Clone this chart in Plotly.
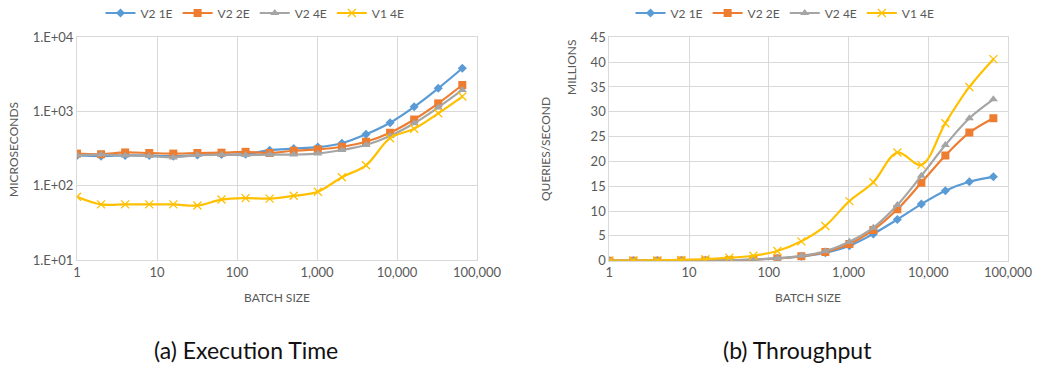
import plotly.graph_objects as go

batch = [1, 2, 4, 8, 16, 32, 64, 128, 256, 512, 1024, 2048, 4096, 8192, 16384, 32768, 65536]
series_names = ["V2 1E", "V2 2E", "V2 4E", "V1 4E"]

# Execution time (microseconds)
time_v2_1e = [255, 250, 255, 255, 250, 258, 262, 265, 300, 315, 330, 372, 490, 703, 1150, 2040, 3800]
time_v2_2e = [270, 265, 280, 275, 270, 275, 278, 285, 275, 295, 307, 334, 390, 515, 776, 1280, 2260]
time_v2_4e = [258, 262, 255, 250, 240, 258, 262, 258, 262, 262, 270, 302, 352, 465, 690, 1130, 1940]
time_v1_4e = [71, 56, 56, 56, 56, 54, 65, 68, 67, 73, 83, 130, 188, 435, 583, 940, 1580]

# Throughput (millions of queries/second)
tp_v2_1e = [0.004, 0.008, 0.016, 0.03, 0.06, 0.12, 0.24, 0.48, 0.85, 1.6, 3.0, 5.4, 8.3, 11.4, 14.1, 15.9, 16.9]
tp_v2_2e = [0.004, 0.008, 0.015, 0.03, 0.06, 0.12, 0.23, 0.45, 0.9, 1.75, 3.35, 6.2, 10.35, 15.7, 21.2, 25.8, 28.7]
tp_v2_4e = [0.004, 0.008, 0.016, 0.03, 0.07, 0.12, 0.24, 0.5, 0.98, 1.9, 3.8, 6.65, 11.2, 17.1, 23.3, 28.7, 32.5]
tp_v1_4e = [0.014, 0.036, 0.07, 0.15, 0.3, 0.6, 1.0, 1.95, 3.9, 7.0, 12.0, 15.8, 21.8, 19.3, 27.7, 35.0, 40.6]

x_tickvals = [1, 10, 100, 1000, 10000, 100000]
x_ticktext = ["1", "10", "100", "1,000", "10,000", "100,000"]
y1_tickvals = [10, 100, 1000, 10000]
y1_ticktext = ["1.E+01", "1.E+02", "1.E+03", "1.E+04"]

colors = ["#5B9BD5", "#ED7D31", "#A5A5A5", "#FFC000"]
symbols = ["diamond", "square", "triangle-up", "x-thin"]
sizes = [7, 8, 8, 8]

W, H = 1039, 368
FONT = "Lato"
TXT = "#595959"
GRID = "#D9D9D9"

fig = go.Figure()

def add_series(ys_list, xa, ya, legend):
    for i, ys in enumerate(ys_list):
        marker = dict(symbol=symbols[i], size=sizes[i], color=colors[i])
        if symbols[i] == "x-thin":
            marker["line"] = dict(color=colors[i], width=1.3)
        fig.add_trace(go.Scatter(
            x=batch, y=ys, name=series_names[i], mode="lines+markers",
            line=dict(color=colors[i], width=2.2, shape="spline"),
            marker=marker, xaxis=xa, yaxis=ya, legend=legend,
        ))

add_series([time_v2_1e, time_v2_2e, time_v2_4e, time_v1_4e], "x", "y", "legend")
add_series([tp_v2_1e, tp_v2_2e, tp_v2_4e, tp_v1_4e], "x2", "y2", "legend2")

def px_x(p):
    return p / W

def px_y(p):
    return 1 - p / H

axis_common = dict(showgrid=True, gridcolor=GRID, gridwidth=1, showline=True,
                   linecolor=GRID, linewidth=1, mirror=True, zeroline=False,
                   ticks="", automargin=False,
                   tickfont=dict(family=FONT, size=13, color=TXT))

fig.update_layout(
    width=W, height=H, margin=dict(l=0, r=0, t=0, b=0, autoexpand=False),
    paper_bgcolor="white", plot_bgcolor="white",
    font=dict(family=FONT, color=TXT),
    xaxis=dict(type="log", range=[0, 5], domain=[px_x(77), px_x(477)], anchor="y",
               tickvals=x_tickvals, ticktext=x_ticktext, **axis_common),
    yaxis=dict(type="log", range=[1, 4], domain=[px_y(260), px_y(37)], anchor="x",
               tickvals=y1_tickvals, ticktext=y1_ticktext, **axis_common),
    xaxis2=dict(type="log", range=[0, 5], domain=[px_x(609.3), px_x(1008)], anchor="y2",
                tickvals=x_tickvals, ticktext=x_ticktext, **axis_common),
    yaxis2=dict(type="linear", range=[0, 45], dtick=5, domain=[px_y(260.7), px_y(37.3)], anchor="x2",
                **axis_common),
    legend=dict(orientation="h", x=px_x(255), y=px_y(13), xanchor="center", yanchor="middle",
                font=dict(family=FONT, size=12, color=TXT), itemwidth=30,
                bgcolor="rgba(0,0,0,0)", tracegroupgap=0),
    legend2=dict(orientation="h", x=px_x(785), y=px_y(13), xanchor="center", yanchor="middle",
                 font=dict(family=FONT, size=12, color=TXT), itemwidth=30,
                 bgcolor="rgba(0,0,0,0)", tracegroupgap=0),
    showlegend=True,
)

annots = [
    dict(text="MICROSECONDS", x=px_x(14), y=px_y(150), textangle=-90, size=12),
    dict(text="BATCH SIZE", x=px_x(277), y=px_y(297), textangle=0, size=12),
    dict(text="QUERIES/SECOND", x=px_x(545), y=px_y(149), textangle=-90, size=12),
    dict(text="MILLIONS", x=px_x(572), y=px_y(68), textangle=-90, size=12),
    dict(text="BATCH SIZE", x=px_x(808), y=px_y(297), textangle=0, size=12),
]
for a in annots:
    fig.add_annotation(text=a["text"], x=a["x"], y=a["y"], xref="paper", yref="paper",
                       showarrow=False, textangle=a["textangle"], xanchor="center", yanchor="middle",
                       font=dict(family=FONT, size=a["size"], color=TXT))

for txt, cx in [("(a) Execution Time", 246), ("(b) Throughput", 797)]:
    fig.add_annotation(text=txt, x=px_x(cx), y=px_y(350), xref="paper", yref="paper",
                       showarrow=False, xanchor="center", yanchor="middle",
                       font=dict(family="Lato", size=23, color="#111111"))

fig.write_html("out.html", config={"displayModeBar": False},
               post_script="document.body.style.margin='0';document.body.style.overflow='hidden';")
